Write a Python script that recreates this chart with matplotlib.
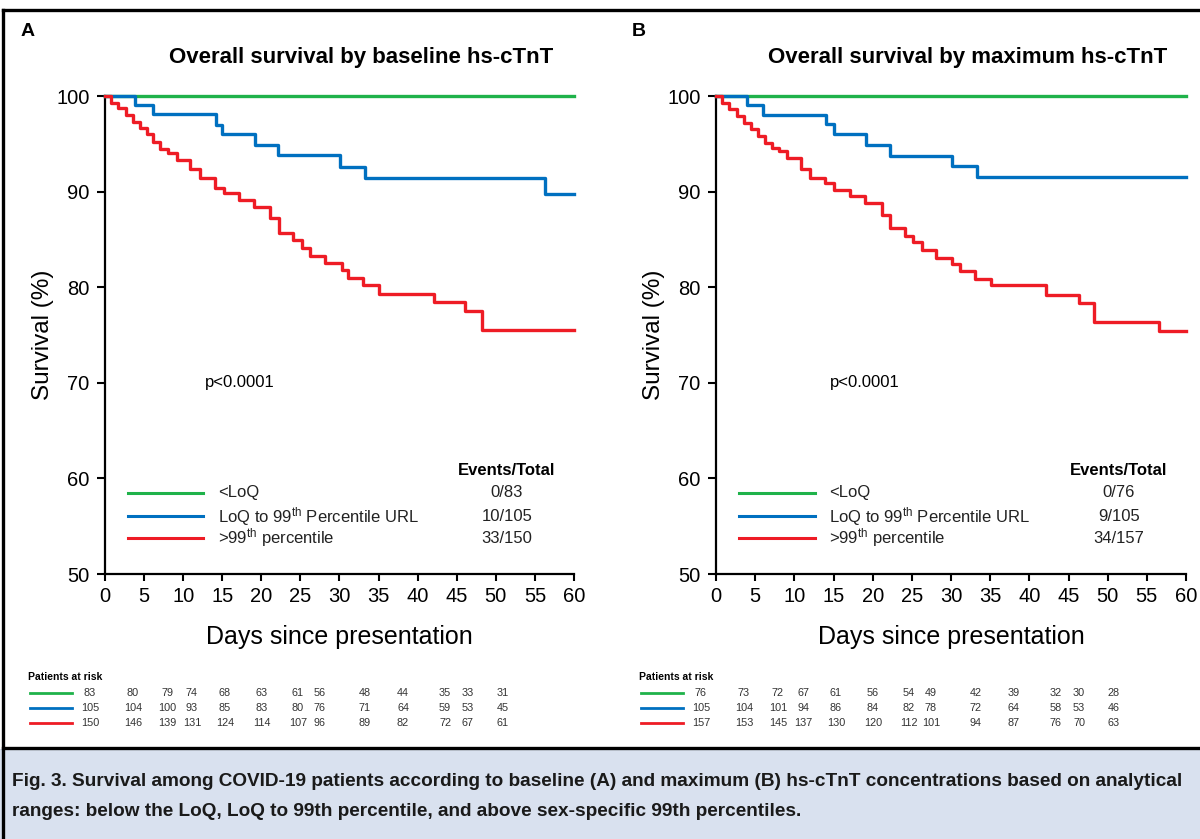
import matplotlib.pyplot as plt
from matplotlib.lines import Line2D
from matplotlib.patches import Rectangle

plt.rcParams['font.family'] = ['Liberation Sans', 'DejaVu Sans']
plt.rcParams['mathtext.default'] = 'regular'

# ---- data ----
group_labels = ['<LoQ', 'LoQ to 99$^{th}$ Percentile URL', '>99$^{th}$ percentile']
group_colors = ['#1fb24a', '#0070c0', '#ee1c25']

# panel A: baseline hs-cTnT
a_blue_t = [3.8, 6.1, 14.2, 15.0, 19.2, 22.1, 30.1, 33.2, 56.3]
a_blue_s = [99.1, 98.1, 97.0, 96.0, 94.9, 93.8, 92.6, 91.4, 89.8]
a_red_t = [0.8, 1.7, 2.7, 3.6, 4.5, 5.4, 6.2, 7.1, 8.1, 9.2, 10.9, 12.1, 14.1, 15.2,
           17.1, 19.0, 21.1, 22.2, 24.1, 25.2, 26.2, 28.1, 30.3, 31.1, 33.0, 35.1,
           42.1, 46.0, 48.2]
a_red_s = [99.3, 98.7, 98.0, 97.3, 96.7, 96.0, 95.2, 94.5, 94.0, 93.3, 92.4, 91.4, 90.4, 89.9,
           89.1, 88.4, 87.2, 85.7, 84.9, 84.1, 83.3, 82.5, 81.8, 81.0, 80.2, 79.3,
           78.5, 77.5, 75.5]
a_events = ['0/83', '10/105', '33/150']
a_risk = [[83, 80, 79, 74, 68, 63, 61, 56, 48, 44, 35, 33, 31],
          [105, 104, 100, 93, 85, 83, 80, 76, 71, 64, 59, 53, 45],
          [150, 146, 139, 131, 124, 114, 107, 96, 89, 82, 72, 67, 61]]

# panel B: maximum hs-cTnT
b_blue_t = [3.9, 6.0, 14.1, 15.1, 19.2, 22.2, 30.1, 33.3]
b_blue_s = [99.1, 98.0, 97.1, 96.0, 94.9, 93.7, 92.7, 91.5]
b_red_t = [0.8, 1.7, 2.7, 3.6, 4.5, 5.4, 6.2, 7.1, 8.0, 9.0, 10.9, 12.0, 13.9, 15.0,
           17.1, 19.0, 21.2, 22.2, 24.1, 25.1, 26.3, 28.1, 30.1, 31.2, 33.1, 35.1,
           42.1, 46.4, 48.3, 56.5]
b_red_s = [99.3, 98.6, 97.9, 97.2, 96.5, 95.8, 95.1, 94.6, 94.2, 93.5, 92.4, 91.4, 90.9, 90.2,
           89.5, 88.8, 87.6, 86.2, 85.4, 84.7, 83.9, 83.1, 82.4, 81.7, 80.9, 80.2,
           79.2, 78.3, 76.4, 75.4]
b_events = ['0/76', '9/105', '34/157']
b_risk = [[76, 73, 72, 67, 61, 56, 54, 49, 42, 39, 32, 30, 28],
          [105, 104, 101, 94, 86, 84, 82, 78, 72, 64, 58, 53, 46],
          [157, 153, 145, 137, 130, 120, 112, 101, 94, 87, 76, 70, 63]]

caption1 = 'Fig. 3. Survival among COVID-19 patients according to baseline (A) and maximum (B) hs-cTnT concentrations based on analytical'
caption2 = 'ranges: below the LoQ, LoQ to 99th percentile, and above sex-specific 99th percentiles.'

# ---- layout helpers (pixels -> figure fraction) ----
W, H = 1200, 839
def fx(px):
    return px / W
def fy(py):
    return 1 - py / H

fig = plt.figure(figsize=(12, 8.39), dpi=100)

# frame and caption box
fig.add_artist(Rectangle((0, 0), 1, fy(749), transform=fig.transFigure,
                         facecolor='#d9e1ef', edgecolor='none', zorder=0))
for seg in [([fx(3), 1], [fy(10), fy(10)]),
            ([fx(3), fx(3)], [fy(10), 0]),
            ([fx(3), 1], [fy(748), fy(748)])]:
    fig.add_artist(Line2D(seg[0], seg[1], transform=fig.transFigure,
                          color='black', lw=2.4))

# caption: scale the font so the first line spans the box like the original
cap1 = fig.text(fx(12), fy(781), caption1, fontweight='bold', fontsize=14,
                color='#1a1a1a', va='center', ha='left')
renderer = fig.canvas.get_renderer()
w1 = cap1.get_window_extent(renderer).width
cap_size = 14 * 1176 / w1
cap1.set_fontsize(cap_size)
fig.text(fx(12), fy(812), caption2, fontweight='bold', fontsize=cap_size,
         color='#1a1a1a', va='center', ha='left')

risk_cols = [90, 133, 167, 192, 225, 262, 298, 320, 365, 403, 445, 468, 503]
risk_rows = [693, 708, 723]

panels = [
    dict(letter='A', title='Overall survival by baseline hs-cTnT', left=105, right=574,
         title_x=361, p_x=0.213, offset=0,
         blue=(a_blue_t, a_blue_s), red=(a_red_t, a_red_s), events=a_events, risk=a_risk),
    dict(letter='B', title='Overall survival by maximum hs-cTnT', left=716, right=1186,
         title_x=968, p_x=0.243, offset=611,
         blue=(b_blue_t, b_blue_s), red=(b_red_t, b_red_s), events=b_events, risk=b_risk),
]

for p in panels:
    ax = fig.add_axes([fx(p['left']), fy(574), fx(p['right'] - p['left']), (574 - 96) / H])
    curves = [([], []), p['blue'], p['red']]
    for (t, s), c in zip(curves, group_colors):
        xs = [0] + list(t) + [60]
        ys = [100] + list(s) + [s[-1] if s else 100]
        ax.step(xs, ys, where='post', color=c, lw=2.4, clip_on=False, zorder=3)

    ax.set_xlim(0, 60)
    ax.set_ylim(50, 100)
    ax.set_xticks(range(0, 61, 5))
    ax.set_yticks(range(50, 101, 10))
    ax.tick_params(axis='both', labelsize=14.5, direction='out', width=1.5, colors='black')
    ax.tick_params(axis='y', length=6, pad=5)
    ax.tick_params(axis='x', length=5, pad=4)
    for side in ['top', 'right']:
        ax.spines[side].set_visible(False)
    for side in ['left', 'bottom']:
        ax.spines[side].set_linewidth(1.6)
    ax.set_xlabel('Days since presentation', fontsize=18, labelpad=14)
    ax.set_ylabel('Survival (%)', fontsize=17.5, labelpad=2)
    ax.patch.set_alpha(0)

    ax.text(p['p_x'], 0.40, 'p<0.0001', transform=ax.transAxes, fontsize=12,
            va='center', ha='left')

    # legend with events/total column
    ax.text(0.857, 0.2155, 'Events/Total', transform=ax.transAxes, fontsize=12,
            fontweight='bold', ha='center', va='center')
    row_y = [0.1695, 0.121, 0.0753]
    for label, c, ev, yy in zip(group_labels, group_colors, p['events'], row_y):
        ax.plot([0.048, 0.21], [yy, yy], transform=ax.transAxes, color=c, lw=2.2)
        ax.text(0.241, yy, label, transform=ax.transAxes, fontsize=12,
                color='#222222', ha='left', va='center')
        ax.text(0.857, yy, ev, transform=ax.transAxes, fontsize=12,
                color='#222222', ha='center', va='center')

    # panel letter and title
    fig.text(fx(p['left'] - 77), fy(32), p['letter'], fontsize=14, fontweight='bold',
             ha='center', va='center')
    fig.text(fx(p['title_x']), fy(58), p['title'], fontsize=16, fontweight='bold',
             ha='center', va='center')

    # patients at risk table
    off = p['offset']
    fig.text(fx(28 + off), fy(677), 'Patients at risk', fontsize=7.5, fontweight='bold',
             ha='left', va='center')
    for row, c, ry in zip(p['risk'], group_colors, risk_rows):
        fig.add_artist(Line2D([fx(30 + off), fx(72 + off)], [fy(ry), fy(ry)],
                              transform=fig.transFigure, color=c, lw=2.0))
        for n, cx in zip(row, risk_cols):
            fig.text(fx(cx + off), fy(ry), str(n), fontsize=7.8, color='#333333',
                     ha='center', va='center')

fig.savefig('out.png', dpi=100)
